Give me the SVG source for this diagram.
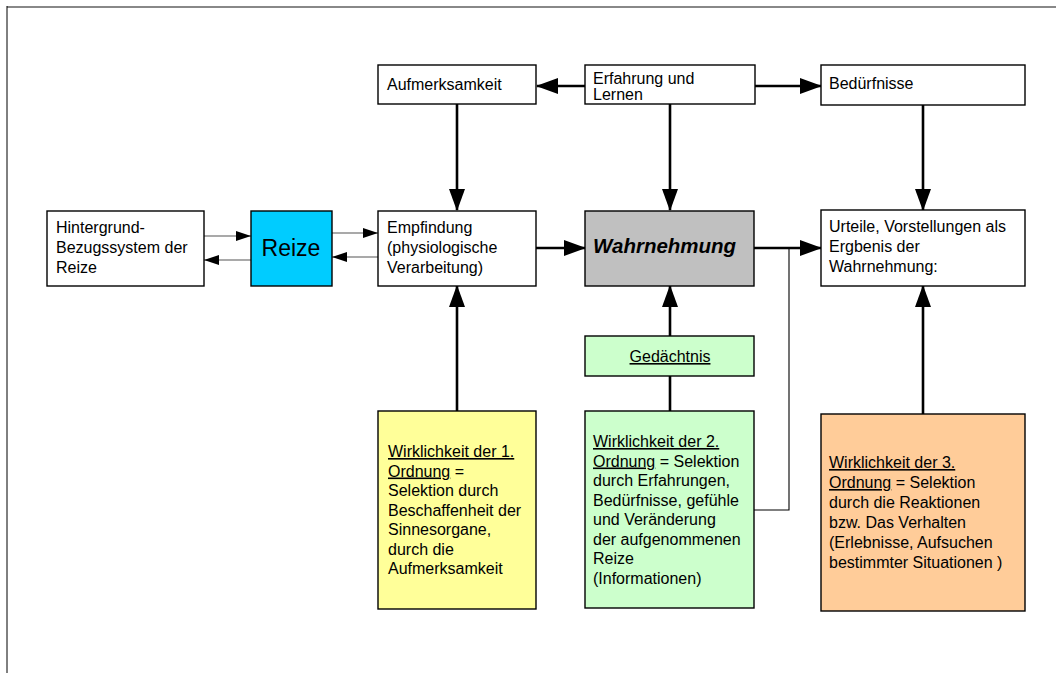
<svg xmlns="http://www.w3.org/2000/svg" width="1056" height="673" viewBox="0 0 1056 673">
<style>
.box{stroke:#000;stroke-width:1.4}
.t{font-family:"Liberation Sans",Arial,sans-serif;font-size:16px;fill:#000}
.u{text-decoration:underline}
.thick{stroke:#000;stroke-width:2.6;fill:none}
.thin{stroke:#555;stroke-width:1.2;fill:none}
.conn{stroke:#000;stroke-width:1.1;fill:none}
</style>
<defs>
<marker id="big" markerUnits="userSpaceOnUse" markerWidth="22" markerHeight="16" refX="21" refY="8" orient="auto"><path d="M0,0 L22,8 L0,16 z" fill="#000"/></marker>
<marker id="small" markerUnits="userSpaceOnUse" markerWidth="15" markerHeight="10" refX="15" refY="5" orient="auto"><path d="M0,0 L15,5 L0,10 z" fill="#000"/></marker>
</defs>
<rect width="1056" height="673" fill="#fff"/>
<g id="frame">
<line x1="7" y1="7" x2="1056" y2="7" stroke="#888" stroke-width="2"/>
<line x1="7" y1="6" x2="7" y2="673" stroke="#000" stroke-width="1"/>
</g>
<g id="connectors">
<line class="thin" x1="204" y1="236" x2="251" y2="236" marker-end="url(#small)"/>
<line class="thin" x1="251" y1="260" x2="204" y2="260" marker-end="url(#small)"/>
<line class="thin" x1="332" y1="233" x2="378" y2="233" marker-end="url(#small)"/>
<line class="thin" x1="378" y1="257" x2="332" y2="257" marker-end="url(#small)"/>
<line class="thick" x1="585" y1="86" x2="537" y2="86" marker-end="url(#big)"/>
<line class="thick" x1="755" y1="86" x2="821" y2="86" marker-end="url(#big)"/>
<line class="thick" x1="457" y1="104" x2="457" y2="210" marker-end="url(#big)"/>
<line class="thick" x1="670" y1="104" x2="670" y2="210" marker-end="url(#big)"/>
<line class="thick" x1="923" y1="105" x2="923" y2="210" marker-end="url(#big)"/>
<line class="thick" x1="536" y1="248" x2="585" y2="248" marker-end="url(#big)"/>
<line class="thick" x1="754" y1="248" x2="821" y2="248" marker-end="url(#big)"/>
<line class="thick" x1="457" y1="411" x2="457" y2="286" marker-end="url(#big)"/>
<line class="thick" x1="670" y1="336" x2="670" y2="286" marker-end="url(#big)"/>
<line class="thick" x1="670" y1="411" x2="670" y2="376"/>
<line class="thick" x1="923" y1="414" x2="923" y2="286" marker-end="url(#big)"/>
<polyline class="conn" points="754,510 789,510 789,248"/>
</g>
<g id="hintergrund">
<rect class="box" x="47" y="211" width="157" height="75" fill="#fff"/>
<text class="t" x="56" y="233">Hintergrund-</text>
<text class="t" x="56" y="253">Bezugssystem der</text>
<text class="t" x="56" y="273">Reize</text>
</g>
<g id="reize">
<rect class="box" x="251" y="211" width="81" height="75" fill="#00CCFF"/>
<text x="291" y="256" text-anchor="middle" font-family="Liberation Sans, Arial, sans-serif" font-size="23">Reize</text>
</g>
<g id="empfindung">
<rect class="box" x="378" y="211" width="158" height="75" fill="#fff"/>
<text class="t" x="387" y="233">Empfindung</text>
<text class="t" x="387" y="253">(physiologische</text>
<text class="t" x="387" y="273">Verarbeitung)</text>
</g>
<g id="wahrnehmung">
<rect class="box" x="585" y="211" width="169" height="75" fill="#C0C0C0"/>
<text x="593" y="253" font-family="Liberation Sans, Arial, sans-serif" font-size="20.5" font-weight="bold" font-style="italic">Wahrnehmung</text>
</g>
<g id="urteile">
<rect class="box" x="821" y="210" width="204" height="76" fill="#fff"/>
<text class="t" x="829" y="232">Urteile, Vorstellungen als</text>
<text class="t" x="829" y="252">Ergbenis der</text>
<text class="t" x="829" y="272">Wahrnehmung:</text>
</g>
<g id="aufmerksamkeit">
<rect class="box" x="378" y="65" width="158" height="39" fill="#fff"/>
<text class="t" x="387" y="90">Aufmerksamkeit</text>
</g>
<g id="erfahrung">
<rect class="box" x="585" y="65" width="170" height="39" fill="#fff"/>
<text class="t" x="593" y="84">Erfahrung und</text>
<text class="t" x="593" y="100">Lernen</text>
</g>
<g id="beduerfnisse">
<rect class="box" x="821" y="65" width="204" height="40" fill="#fff"/>
<text class="t" x="829" y="89">Bedürfnisse</text>
</g>
<g id="gedaechtnis">
<rect class="box" x="585" y="336" width="169" height="40" fill="#CCFFCC"/>
<text class="t u" x="670" y="362" text-anchor="middle">Gedächtnis</text>
</g>
<g id="ordnung1">
<rect class="box" x="378" y="411" width="158" height="198" fill="#FFFF99"/>
<text class="t" x="388" y="457"><tspan class="u">Wirklichkeit der 1.</tspan></text>
<text class="t" x="388" y="476.5"><tspan class="u">Ordnung</tspan> =</text>
<text class="t" x="388" y="496">Selektion durch</text>
<text class="t" x="388" y="515.5">Beschaffenheit der</text>
<text class="t" x="388" y="535">Sinnesorgane,</text>
<text class="t" x="388" y="554.5">durch die</text>
<text class="t" x="388" y="574">Aufmerksamkeit</text>
</g>
<g id="ordnung2">
<rect class="box" x="585" y="411" width="169" height="197" fill="#CCFFCC"/>
<text class="t" x="593" y="447"><tspan class="u">Wirklichkeit der 2.</tspan></text>
<text class="t" x="593" y="466.5"><tspan class="u">Ordnung</tspan> = Selektion</text>
<text class="t" x="593" y="486">durch Erfahrungen,</text>
<text class="t" x="593" y="505.5">Bedürfnisse, gefühle</text>
<text class="t" x="593" y="525">und Veränderung</text>
<text class="t" x="593" y="544.5">der aufgenommenen</text>
<text class="t" x="593" y="564">Reize</text>
<text class="t" x="593" y="583.5">(Informationen)</text>
</g>
<g id="ordnung3">
<rect class="box" x="821" y="414" width="204" height="197" fill="#FFCC99"/>
<text class="t" x="829" y="468"><tspan class="u">Wirklichkeit der 3.</tspan></text>
<text class="t" x="829" y="488"><tspan class="u">Ordnung</tspan> = Selektion</text>
<text class="t" x="829" y="508">durch die Reaktionen</text>
<text class="t" x="829" y="528">bzw. Das Verhalten</text>
<text class="t" x="829" y="548">(Erlebnisse, Aufsuchen</text>
<text class="t" x="829" y="568">bestimmter Situationen )</text>
</g>
</svg>
